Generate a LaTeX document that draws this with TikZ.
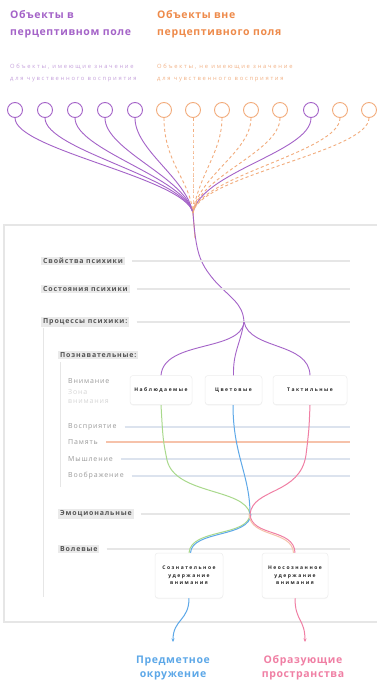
\documentclass[tikz,border=0pt]{standalone}
\usepackage{fontspec}
\setmainfont{Open Sans}
\newfontfamily\widefont[LetterSpace=6]{Open Sans}
\newfontfamily\spreadfont[LetterSpace=12]{Open Sans}
\newfontfamily\tinyfont[LetterSpace=30]{Open Sans}
\usetikzlibrary{arrows.meta,shadows}

\definecolor{purp}{HTML}{A463C8}
\definecolor{purplite}{HTML}{C6A2DC}
\definecolor{oran}{HTML}{EE8A4A}
\definecolor{oranlite}{HTML}{F2B286}
\definecolor{orandash}{HTML}{F2AC7C}
\definecolor{framegray}{HTML}{E6E6E6}
\definecolor{labelbg}{HTML}{EAEAEA}
\definecolor{labeltext}{HTML}{555555}
\definecolor{subtext}{HTML}{9A9A9A}
\definecolor{faint}{HTML}{D6D6D6}
\definecolor{greenln}{HTML}{A9D98C}
\definecolor{blueln}{HTML}{5DA8E8}
\definecolor{pinkln}{HTML}{F07FA4}
\definecolor{salmon}{HTML}{F6C2AA}
\definecolor{bluegray}{HTML}{DCE3EE}

\tikzset{
  header/.style={anchor=base west, inner sep=0pt, font=\widefont\bfseries\fontsize{10.5}{12}\selectfont},
  subline/.style={anchor=base west, inner sep=0pt, font=\tinyfont\fontsize{5.8}{7}\selectfont},
  objin/.style={circle, draw=purp, line width=0.9pt, minimum size=15pt, inner sep=0pt},
  objout/.style={circle, draw=orandash, line width=0.9pt, minimum size=15pt, inner sep=0pt},
  inlink/.style={draw=purp, line width=0.9pt},
  outlink/.style={draw=orandash, line width=0.9pt, dash pattern=on 3pt off 2.5pt},
  group/.style={anchor=west, fill=labelbg, text=labeltext, inner xsep=2pt, inner ysep=1.5pt,
    font=\spreadfont\bfseries\fontsize{7}{8}\selectfont},
  item/.style={anchor=west, text=subtext, inner sep=0pt, font=\spreadfont\fontsize{7}{8}\selectfont},
  guide/.style={draw=framegray, line width=1.8pt},
  pbox/.style={draw=black!7, fill=white, rounded corners=3pt, line width=0.5pt,
    drop shadow={opacity=0.07, shadow xshift=0pt, shadow yshift=-1pt},
    align=center, text=black!85, font=\tinyfont\bfseries\fontsize{5}{7.5}\selectfont},
  outcome/.style={anchor=base, inner sep=0pt, font=\widefont\bfseries\fontsize{10.5}{12}\selectfont},
  tip/.style={-{Stealth[length=3.5pt,width=3pt]}},
}

\begin{document}
\begin{tikzpicture}[x=1pt,y=-1pt]
\useasboundingbox (0,0) rectangle (376,682);
\fill[white] (0,0) rectangle (376,682);

% headings
\node[header, text=purp] (h1a) at (10,18.5) {Объекты в};
\node[header, text=purp] (h1b) at (10,35.5) {перцептивном поле};
\node[header, text=oran] (h2a) at (157,18.5) {Объекты вне};
\node[header, text=oran] (h2b) at (157,35.5) {перцептивного поля};
\node[subline, text=purplite] (s1a) at (10,68.5) {Объекты, имеющие значение};
\node[subline, text=purplite] (s1b) at (10,80.5) {для чувственного восприятия};
\node[subline, text=oranlite] (s2a) at (157,68.5) {Объекты, не имеющие значение};
\node[subline, text=oranlite] (s2b) at (157,80.5) {для чувственного восприятия};

% outer frame (open to the right) and indents
\draw[framegray, line width=1.2pt] (382,225) -- (4,225) -- (4,622) -- (382,622);
\draw[framegray, line width=1pt] (43,328) -- (43,597);
\draw[framegray, line width=1pt] (60,362) -- (60,487);

% objects
\foreach \i/\x/\s in {1/15/objin,2/45/objin,3/75/objin,4/105/objin,5/135/objin,
  6/164/objout,7/193/objout,8/222/objout,9/251/objout,10/280/objout,
  11/311/objin,12/340/objout,13/369/objout}
  \node[\s] (c\i) at (\x,110) {};

\coordinate (hub) at (193,213);
\foreach \i in {1,...,5}
  \draw[inlink] (c\i.south) .. controls +(0,32) and (186,178) .. (hub);
\draw[inlink] (c11.south) .. controls +(0,34) and (200,172) .. (hub);
\draw[outlink] (c6.south) .. controls +(0,45) and (190,180) .. (hub);
\draw[outlink] (c7.south) .. controls +(0,40) and (193,185) .. (hub);
\foreach \i in {8,9,10,12,13}
  \draw[outlink] (c\i.south) .. controls +(0,34) and (198,176) .. (hub);

% trunk
\coordinate (split) at (244,322);
\draw[orandash, line width=0.9pt] (hub) .. controls (194,225) .. (195,238);
\draw[inlink] (hub) .. controls (196,252) and (199,262) .. (214,280)
  .. controls (230,298) and (243,303) .. (split);

% groups
\coordinate (xend) at (350,0);
\node[group] (g1) at (41,261) {Свойства психики};
\node[group] (g2) at (41,289) {Состояния психики};
\node[group] (g3) at (41,322) {Процессы психики:};
\node[group] (g4) at (58,355) {Познавательные:};
\node[group] (g5) at (58,514) {Эмоциональные};
\node[group] (g6) at (58,549) {Волевые};
\foreach \g in {g1,g2,g3,g5,g6}
  \draw[guide] ([xshift=7pt]\g.east) -- (\g -| xend);

% cognitive items
\node[item] (i1) at (68,381) {Внимание};
\node[item, text=faint] (i1b) at (68,392) {Зона};
\node[item, text=faint] (i1c) at (68,402) {внимания};
\node[item] (i2) at (68,427) {Восприятие};
\node[item] (i3) at (68,442) {Память};
\node[item] (i4) at (68,459) {Мышление};
\node[item] (i5) at (68,476) {Воображение};
\draw[draw=bluegray, line width=1.8pt] ([xshift=8pt]i2.east) -- (i2 -| xend);
\draw[draw=salmon, line width=2.2pt] ([xshift=8pt]i3.east) -- (i3 -| xend);
\draw[draw=bluegray, line width=1.8pt] ([xshift=8pt]i4.east) -- (i4 -| xend);
\draw[draw=bluegray, line width=1.8pt] ([xshift=8pt]i5.east) -- (i5 -| xend);

% channels
\coordinate (merge) at (250,514);
\draw[greenln, line width=1pt] (161,405) .. controls (163,440) .. (167,460)
  .. controls (175,495) and (245,488) .. (merge);
\draw[blueln, line width=1pt] (233,405) .. controls (233,455) and (250,475) .. (merge);
\draw[pinkln, line width=1pt] (310,405) .. controls (309,430) .. (306,455)
  .. controls (300,495) and (253,488) .. (merge);

% perception boxes
\node[pbox, minimum width=62pt, minimum height=29pt] (b1) at (161,390) {Наблюдаемые};
\node[pbox, minimum width=57pt, minimum height=29pt] (b2) at (233.5,390) {Цветовые};
\node[pbox, minimum width=74pt, minimum height=29pt] (b3) at (310,390) {Тактильные};

\draw[inlink] (split) .. controls (241,352) and (164,340) .. (b1.north);
\draw[inlink] (split) .. controls (240,345) and (233,352) .. (b2.north);
\draw[inlink] (split) .. controls (250,350) and (309,342) .. (b3.north);

% attention boxes
\node[pbox, minimum width=68pt, minimum height=45pt] (bA) at (189,575.5)
  {Сознательное\\удержание\\внимания};
\node[pbox, minimum width=66pt, minimum height=45pt] (bB) at (295,575.5)
  {Неосознанное\\удержание\\внимания};

\draw[greenln, line width=1pt] (merge) .. controls (249,537) and (191,528) .. (bA.north);
\draw[blueln, line width=1pt] ([xshift=1pt]merge) .. controls (250,538) and (192,530) .. ([xshift=1.5pt]bA.north);
\draw[pinkln, line width=1pt] (merge) .. controls (251,537) and (294,528) .. (bB.north);
\draw[salmon, line width=1pt] ([xshift=-1pt]merge) .. controls (250,538) and (292,530) .. ([xshift=-1.5pt]bB.north);

% outcomes
\coordinate (tipA) at (173,642);
\coordinate (tipB) at (305,642);
\draw[blueln, line width=1pt, tip] (bA.south) .. controls (189,621) and (173,619) .. (tipA);
\draw[pinkln, line width=1pt, tip] (bB.south) .. controls (295,621) and (305,619) .. (tipB);
\node[outcome, text=blueln] (o1a) at (173,663) {Предметное};
\node[outcome, text=blueln] (o1b) at (173,677.5) {окружение};
\node[outcome, text=pinkln] (o2a) at (303,663) {Образующие};
\node[outcome, text=pinkln] (o2b) at (303,677.5) {пространства};
\end{tikzpicture}
\end{document}
